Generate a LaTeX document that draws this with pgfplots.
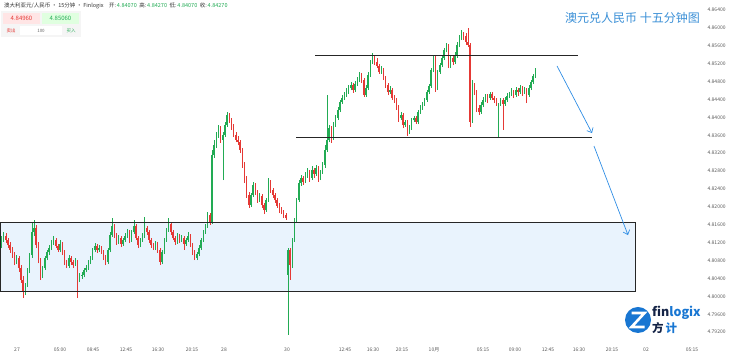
\documentclass[border=0pt]{standalone}
\usepackage{pgfplots}
\pgfplotsset{compat=1.18}
\usepackage{pgfplotstable}
\usepackage{fontspec}
\setmainfont{Noto Sans CJK SC}
\usetikzlibrary{arrows.meta}
\definecolor{cgreen}{RGB}{34,171,84}
\definecolor{cred}{RGB}{229,57,53}
\definecolor{boxfill}{RGB}{233,243,253}
\definecolor{titleblue}{RGB}{58,143,214}
\definecolor{arrowblue}{RGB}{47,141,228}
\definecolor{logoblue}{RGB}{24,118,210}
\definecolor{navy}{RGB}{20,35,70}
\pgfplotstableread{
o h l c
4.8115 4.8135 4.8108 4.8126
4.8126 4.8144 4.8122 4.8135
4.8135 4.8142 4.8119 4.8126
4.8126 4.8130 4.8108 4.8115
4.8115 4.8122 4.8097 4.8104
4.8104 4.8110 4.8086 4.8092
4.8092 4.8099 4.8070 4.8077
4.8077 4.8092 4.8072 4.8086
4.8086 4.8090 4.8054 4.8063
4.8063 4.8070 4.8030 4.8037
4.8037 4.8046 4.7996 4.8010
4.8010 4.8030 4.8003 4.8025
4.8025 4.8063 4.8021 4.8059
4.8059 4.8097 4.8052 4.8092
4.8092 4.8166 4.8086 4.8144
4.8144 4.8171 4.8135 4.8153
4.8153 4.8160 4.8108 4.8115
4.8115 4.8122 4.8074 4.8081
4.8081 4.8086 4.8037 4.8048
4.8048 4.8068 4.8041 4.8063
4.8063 4.8090 4.8059 4.8086
4.8086 4.8104 4.8081 4.8099
4.8099 4.8115 4.8092 4.8108
4.8108 4.8126 4.8104 4.8119
4.8119 4.8135 4.8115 4.8126
4.8126 4.8130 4.8108 4.8113
4.8113 4.8117 4.8099 4.8104
4.8104 4.8126 4.8099 4.8117
4.8117 4.8122 4.8092 4.8099
4.8099 4.8104 4.8070 4.8077
4.8077 4.8081 4.8063 4.8068
4.8068 4.8092 4.8063 4.8086
4.8086 4.8090 4.8070 4.8077
4.8077 4.8081 4.8063 4.8070
4.8070 4.8086 4.8068 4.8077
4.8077 4.8081 4.7996 4.8037
4.8037 4.8052 4.8032 4.8046
4.8046 4.8054 4.8039 4.8048
4.8048 4.8063 4.8043 4.8059
4.8059 4.8070 4.8054 4.8063
4.8063 4.8081 4.8059 4.8077
4.8077 4.8090 4.8072 4.8086
4.8086 4.8108 4.8081 4.8104
4.8104 4.8119 4.8099 4.8113
4.8113 4.8117 4.8097 4.8104
4.8104 4.8115 4.8099 4.8108
4.8108 4.8113 4.8095 4.8099
4.8099 4.8104 4.8081 4.8086
4.8086 4.8092 4.8070 4.8077
4.8077 4.8108 4.8072 4.8104
4.8104 4.8144 4.8099 4.8137
4.8137 4.8175 4.8133 4.8157
4.8157 4.8162 4.8130 4.8137
4.8137 4.8142 4.8115 4.8122
4.8122 4.8137 4.8117 4.8130
4.8130 4.8135 4.8110 4.8117
4.8117 4.8130 4.8113 4.8126
4.8126 4.8142 4.8122 4.8135
4.8135 4.8151 4.8130 4.8144
4.8144 4.8148 4.8119 4.8126
4.8126 4.8148 4.8122 4.8144
4.8144 4.8171 4.8140 4.8157
4.8157 4.8162 4.8126 4.8130
4.8130 4.8135 4.8108 4.8115
4.8115 4.8130 4.8110 4.8126
4.8126 4.8142 4.8122 4.8135
4.8135 4.8177 4.8130 4.8153
4.8153 4.8157 4.8137 4.8144
4.8144 4.8148 4.8119 4.8126
4.8126 4.8130 4.8108 4.8115
4.8115 4.8119 4.8104 4.8108
4.8108 4.8124 4.8104 4.8117
4.8117 4.8122 4.8097 4.8104
4.8104 4.8108 4.8070 4.8077
4.8077 4.8104 4.8072 4.8099
4.8099 4.8130 4.8095 4.8126
4.8126 4.8153 4.8122 4.8148
4.8148 4.8175 4.8144 4.8162
4.8162 4.8166 4.8137 4.8144
4.8144 4.8148 4.8126 4.8130
4.8130 4.8135 4.8115 4.8122
4.8122 4.8142 4.8117 4.8135
4.8135 4.8140 4.8119 4.8126
4.8126 4.8137 4.8122 4.8130
4.8130 4.8135 4.8104 4.8117
4.8117 4.8130 4.8113 4.8126
4.8126 4.8144 4.8122 4.8135
4.8135 4.8140 4.8110 4.8115
4.8115 4.8119 4.8092 4.8099
4.8099 4.8104 4.8081 4.8086
4.8086 4.8099 4.8081 4.8095
4.8095 4.8115 4.8090 4.8108
4.8108 4.8130 4.8104 4.8126
4.8126 4.8148 4.8122 4.8144
4.8144 4.8162 4.8140 4.8157
4.8157 4.8189 4.8153 4.8182
4.8182 4.8186 4.8160 4.8166
4.8166 4.8327 4.8162 4.8316
4.8316 4.8350 4.8309 4.8338
4.8338 4.8367 4.8332 4.8361
4.8361 4.8383 4.8354 4.8376
4.8376 4.8381 4.8343 4.8350
4.8350 4.8367 4.8260 4.8361
4.8361 4.8390 4.8356 4.8383
4.8383 4.8412 4.8379 4.8405
4.8405 4.8410 4.8388 4.8394
4.8394 4.8399 4.8372 4.8376
4.8376 4.8385 4.8356 4.8361
4.8361 4.8367 4.8345 4.8350
4.8350 4.8359 4.8338 4.8345
4.8345 4.8350 4.8321 4.8327
4.8327 4.8332 4.8287 4.8294
4.8294 4.8300 4.8253 4.8260
4.8260 4.8269 4.8220 4.8227
4.8227 4.8233 4.8198 4.8204
4.8204 4.8231 4.8200 4.8227
4.8227 4.8256 4.8222 4.8249
4.8249 4.8253 4.8227 4.8233
4.8233 4.8238 4.8209 4.8215
4.8215 4.8231 4.8211 4.8224
4.8224 4.8229 4.8198 4.8204
4.8204 4.8209 4.8184 4.8193
4.8193 4.8220 4.8189 4.8215
4.8215 4.8265 4.8211 4.8256
4.8256 4.8260 4.8231 4.8238
4.8238 4.8242 4.8220 4.8227
4.8227 4.8231 4.8209 4.8215
4.8215 4.8220 4.8198 4.8202
4.8202 4.8209 4.8186 4.8193
4.8193 4.8200 4.8184 4.8189
4.8189 4.8193 4.8175 4.8182
4.8182 4.8186 4.8171 4.8175
4.8048 4.8108 4.7914 4.8104
4.8104 4.8108 4.8037 4.8070
4.8070 4.8130 4.8063 4.8126
4.8126 4.8175 4.8122 4.8171
4.8171 4.8220 4.8166 4.8215
4.8215 4.8260 4.8211 4.8253
4.8253 4.8271 4.8247 4.8265
4.8265 4.8269 4.8249 4.8256
4.8256 4.8278 4.8253 4.8271
4.8271 4.8287 4.8265 4.8278
4.8278 4.8282 4.8256 4.8265
4.8265 4.8291 4.8260 4.8282
4.8282 4.8287 4.8265 4.8274
4.8274 4.8294 4.8269 4.8287
4.8287 4.8291 4.8256 4.8265
4.8265 4.8282 4.8260 4.8278
4.8278 4.8300 4.8274 4.8294
4.8294 4.8338 4.8287 4.8327
4.8327 4.8450 4.8323 4.8350
4.8350 4.8383 4.8345 4.8376
4.8376 4.8381 4.8343 4.8354
4.8354 4.8390 4.8350 4.8383
4.8383 4.8405 4.8379 4.8399
4.8399 4.8423 4.8394 4.8417
4.8417 4.8439 4.8412 4.8434
4.8434 4.8450 4.8430 4.8443
4.8443 4.8457 4.8439 4.8450
4.8450 4.8466 4.8446 4.8457
4.8457 4.8472 4.8452 4.8466
4.8466 4.8479 4.8461 4.8472
4.8472 4.8477 4.8455 4.8461
4.8461 4.8481 4.8457 4.8475
4.8475 4.8490 4.8470 4.8484
4.8484 4.8501 4.8479 4.8495
4.8495 4.8499 4.8477 4.8484
4.8484 4.8488 4.8446 4.8450
4.8450 4.8472 4.8446 4.8466
4.8466 4.8501 4.8461 4.8495
4.8495 4.8528 4.8490 4.8524
4.8524 4.8544 4.8519 4.8533
4.8533 4.8537 4.8517 4.8524
4.8524 4.8533 4.8510 4.8515
4.8515 4.8519 4.8497 4.8501
4.8501 4.8515 4.8497 4.8506
4.8506 4.8510 4.8484 4.8488
4.8488 4.8493 4.8466 4.8472
4.8472 4.8477 4.8450 4.8457
4.8457 4.8470 4.8452 4.8461
4.8461 4.8466 4.8439 4.8443
4.8443 4.8450 4.8432 4.8439
4.8439 4.8443 4.8417 4.8421
4.8421 4.8428 4.8390 4.8399
4.8399 4.8412 4.8394 4.8405
4.8405 4.8410 4.8376 4.8383
4.8383 4.8394 4.8379 4.8390
4.8390 4.8394 4.8359 4.8367
4.8367 4.8383 4.8363 4.8376
4.8376 4.8399 4.8372 4.8394
4.8394 4.8403 4.8390 4.8399
4.8399 4.8403 4.8385 4.8390
4.8390 4.8417 4.8385 4.8412
4.8412 4.8428 4.8408 4.8421
4.8421 4.8434 4.8417 4.8430
4.8430 4.8443 4.8426 4.8439
4.8439 4.8461 4.8434 4.8457
4.8457 4.8475 4.8452 4.8470
4.8470 4.8510 4.8466 4.8506
4.8506 4.8539 4.8501 4.8533
4.8533 4.8537 4.8457 4.8466
4.8466 4.8506 4.8461 4.8501
4.8501 4.8522 4.8497 4.8517
4.8517 4.8539 4.8513 4.8533
4.8533 4.8555 4.8528 4.8551
4.8551 4.8566 4.8546 4.8560
4.8560 4.8564 4.8510 4.8515
4.8515 4.8539 4.8510 4.8533
4.8533 4.8537 4.8517 4.8524
4.8524 4.8546 4.8519 4.8539
4.8539 4.8569 4.8533 4.8562
4.8562 4.8584 4.8557 4.8578
4.8578 4.8595 4.8573 4.8586
4.8586 4.8591 4.8573 4.8582
4.8582 4.8589 4.8562 4.8569
4.8569 4.8600 4.8557 4.8562
4.8562 4.8566 4.8379 4.8390
4.8394 4.8484 4.8388 4.8472
4.8472 4.8477 4.8450 4.8457
4.8457 4.8461 4.8412 4.8421
4.8421 4.8428 4.8405 4.8412
4.8412 4.8434 4.8408 4.8428
4.8428 4.8446 4.8423 4.8439
4.8439 4.8452 4.8434 4.8448
4.8448 4.8452 4.8432 4.8443
4.8443 4.8457 4.8439 4.8452
4.8452 4.8457 4.8439 4.8443
4.8443 4.8448 4.8432 4.8439
4.8439 4.8443 4.8426 4.8432
4.8405 4.8432 4.8356 4.8430
4.8430 4.8443 4.8426 4.8439
4.8439 4.8443 4.8372 4.8430
4.8430 4.8446 4.8426 4.8439
4.8439 4.8455 4.8434 4.8448
4.8448 4.8457 4.8443 4.8452
4.8452 4.8466 4.8448 4.8457
4.8457 4.8461 4.8443 4.8450
4.8450 4.8468 4.8446 4.8461
4.8461 4.8466 4.8448 4.8457
4.8457 4.8472 4.8452 4.8466
4.8466 4.8470 4.8448 4.8457
4.8457 4.8468 4.8452 4.8461
4.8461 4.8466 4.8432 4.8450
4.8450 4.8472 4.8446 4.8466
4.8466 4.8484 4.8461 4.8479
4.8479 4.8497 4.8475 4.8493
4.8493 4.8510 4.8488 4.8501
}\candles
\pgfplotsset{
  candle/.style 2 args={draw=none, mark=none, forget plot,
    /pgfplots/error bars/y dir=plus,
    /pgfplots/error bars/y explicit,
    /pgfplots/error bars/error mark=none,
    /pgfplots/error bars/error bar style={draw=#1, solid, line width=#2}},
}
\begin{document}
\begin{tikzpicture}[x=1pt,y=1pt]
\useasboundingbox (0,0) rectangle (740,363);
\begin{axis}[
  at={(0pt,20pt)}, anchor=south west,
  width=702pt, height=343pt, scale only axis,
  xmin=0, xmax=702, ymin=4.78958, ymax=4.86624,
  axis line style={draw=none}, major tick length=0pt,
  ytick={4.792,4.796,4.800,4.804,4.808,4.812,4.816,4.820,4.824,4.828,4.832,4.836,4.840,4.844,4.848,4.852,4.856,4.860,4.864},
  yticklabel pos=right,
  yticklabel style={/pgf/number format/.cd, fixed, fixed zerofill, precision=5, assume math mode=true, /tikz/.cd, font=\fontsize{5}{6}\selectfont, text=black!65, anchor=west, xshift=2pt},
  xtick={17,60,93,126,158,192,224,287,345,373,402,434,483,515,548,579,612,646,692},
  xticklabels={27,05:00,08:45,12:45,16:30,20:15,28,30,12:45,16:30,20:15,10月,05:15,09:00,12:45,16:30,20:15,02,05:15},
  xticklabel style={font=\fontsize{5}{6}\selectfont, text=black!65, yshift=-1.5pt},
  clip=false,
]
\fill[boxfill] (axis cs:0,4.8166) rectangle (axis cs:635,4.8012);
% wicks
\addplot[candle={cgreen}{0.5pt}, restrict expr to domain={\thisrow{c}-\thisrow{o}}{0:1}]
  table[x expr=1.5+2.17*\coordindex, y=l, y error expr=\thisrow{h}-\thisrow{l}] {\candles};
\addplot[candle={cred}{0.5pt}, restrict expr to domain={\thisrow{c}-\thisrow{o}}{-1:-0.00001}]
  table[x expr=1.5+2.17*\coordindex, y=l, y error expr=\thisrow{h}-\thisrow{l}] {\candles};
% bodies
\addplot[candle={cgreen}{1.5pt}, restrict expr to domain={\thisrow{c}-\thisrow{o}}{0:1}]
  table[x expr=1.5+2.17*\coordindex, y=o, y error expr=\thisrow{c}-\thisrow{o}] {\candles};
\addplot[candle={cred}{1.5pt}, restrict expr to domain={\thisrow{c}-\thisrow{o}}{-1:-0.00001}]
  table[x expr=1.5+2.17*\coordindex, y=c, y error expr=\thisrow{o}-\thisrow{c}] {\candles};
\draw[black!85, line width=1pt] (axis cs:0,4.8166) rectangle (axis cs:635,4.8012);
\draw[black!85, line width=1.1pt] (axis cs:315,4.8539) -- (axis cs:578,4.8539);
\draw[black!85, line width=1.1pt] (axis cs:296,4.8356) -- (axis cs:592,4.8356);
\draw[arrowblue, line width=0.7pt, -{Straight Barb[length=4pt,width=7pt]}] (axis cs:557,4.8515) -- (axis cs:592,4.8365);
\draw[arrowblue, line width=0.7pt, -{Straight Barb[length=4pt,width=7pt]}] (axis cs:594,4.8336) -- (axis cs:628,4.8137);
\end{axis}
% header
\node[anchor=west, inner sep=0pt, font=\fontsize{5.5}{6.5}\selectfont, text=black!80] at (4,357)
  {澳大利亚元/人民币 · 15分钟 · Finlogix\quad 开:\,\textcolor{cgreen}{4.84070}\ \ 高:\,\textcolor{cgreen}{4.84270}\ \ 低:\,\textcolor{cgreen}{4.84070}\ \ 收:\,\textcolor{cgreen}{4.84270}};
\fill[black!4] (1,352) rectangle (81,326);
\fill[red!10] (3,350) rectangle (40,339);
\fill[green!12] (42,350) rectangle (79,339);
\node[font=\fontsize{6}{7}\selectfont, text=cred] at (21.5,344.5) {4.84960};
\node[font=\fontsize{6}{7}\selectfont, text=cgreen] at (60.5,344.5) {4.85060};
\fill[white] (20,337) rectangle (62,328);
\node[font=\fontsize{4.5}{5}\selectfont, text=cred] at (11,332.5) {卖出};
\node[font=\fontsize{4.5}{5}\selectfont, text=black!60] at (41,332.5) {100};
\node[font=\fontsize{4.5}{5}\selectfont, text=cgreen] at (71,332.5) {买入};
% title
\node[anchor=west, inner sep=0pt, text=titleblue, font=\fontsize{12}{14}\selectfont] at (565,345) {澳元兑人民币\ 十五分钟图};
% logo
\fill[logoblue] (638,43) circle (13);
\draw[white, line width=2.6pt, line join=miter] (631.5,50) -- (644.5,50) -- (631.5,36) -- (644.5,36);
\node[anchor=west, inner sep=0pt, font=\bfseries\fontsize{12.5}{12.5}\selectfont] at (652,50) {\textcolor{navy}{fin}\textcolor{logoblue}{logix}};
\node[anchor=west, inner sep=0pt, font=\bfseries\fontsize{11.5}{12}\selectfont] at (652,35) {\textcolor{navy}{方}\,\textcolor{logoblue}{计}};
\end{tikzpicture}
\end{document}
